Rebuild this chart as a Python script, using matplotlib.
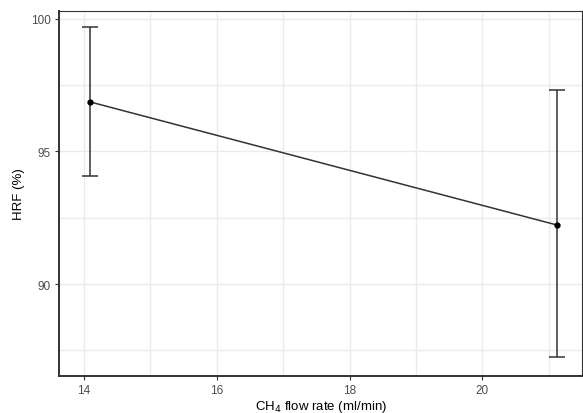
import numpy as np
import matplotlib
matplotlib.use("Agg")
import matplotlib.pyplot as plt
from matplotlib.ticker import MultipleLocator

plt.rcParams['font.family'] = ['Liberation Sans', 'DejaVu Sans']

# data
flow = [14.09, 21.12]
hrf = [96.87, 92.23]
hrf_lo = [94.08, 87.25]
hrf_hi = [99.70, 97.32]

fig = plt.figure(figsize=(5.83, 4.14), dpi=100)
ax = fig.add_axes([0.101, 0.0894, 0.898, 0.8816])

yerr = [np.array(hrf) - np.array(hrf_lo), np.array(hrf_hi) - np.array(hrf)]
ax.errorbar(flow, hrf, yerr=yerr, color="#333333", lw=1.1, capsize=6,
            capthick=1.1, marker="o", ms=3.5, mfc="black", mec="black", zorder=3)

ax.set_xlim(13.62, 21.51)
ax.set_ylim(86.53, 100.30)
ax.xaxis.set_major_locator(MultipleLocator(2))
ax.xaxis.set_minor_locator(MultipleLocator(1))
ax.yaxis.set_major_locator(MultipleLocator(5))
ax.yaxis.set_minor_locator(MultipleLocator(2.5))

ax.grid(which="major", color="#ebebeb", lw=1.0)
ax.grid(which="minor", color="#ebebeb", lw=1.0)
ax.set_axisbelow(True)

for s in ax.spines.values():
    s.set_color("#333333")
    s.set_linewidth(0.8)
ax.spines["left"].set_linewidth(1.4)
ax.spines["bottom"].set_linewidth(1.4)

ax.tick_params(which="major", length=3, color="#333333", labelsize=8.5,
               labelcolor="#4d4d4d", width=0.8, pad=3)
ax.tick_params(which="minor", length=0)

ax.set_xlabel("CH$_4$ flow rate (ml/min)", fontsize=9.5, labelpad=1)
ax.set_ylabel("HRF (%)", fontsize=9.5, labelpad=4)

fig.savefig("out.png", dpi=100)
